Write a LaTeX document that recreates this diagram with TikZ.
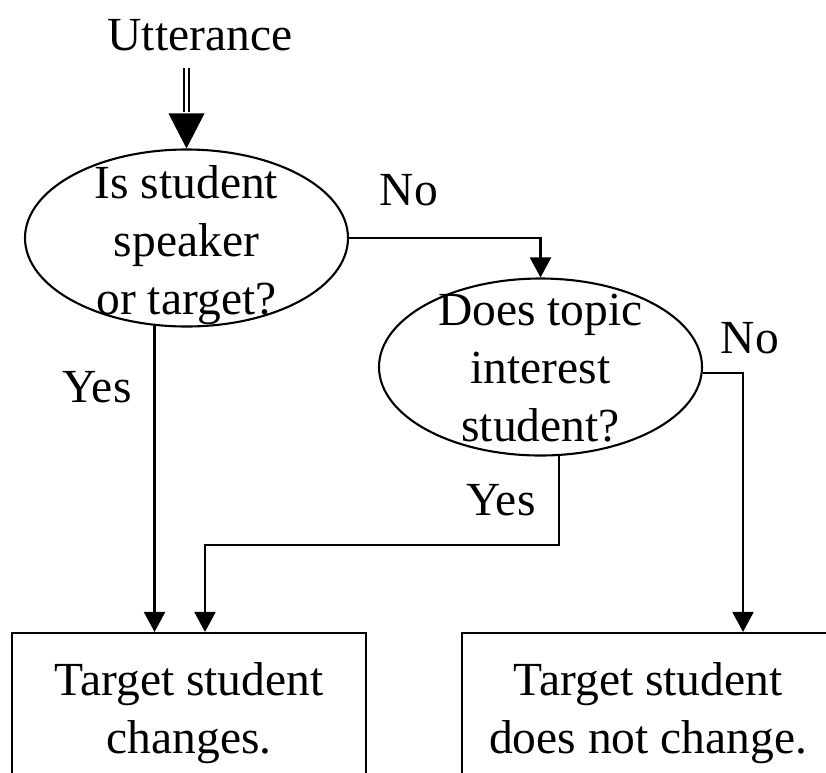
\documentclass[tikz,border=0pt]{standalone}
\usepackage{fontspec}
\setmainfont{Liberation Serif}
\usetikzlibrary{arrows.meta,shapes.geometric,calc}
\begin{document}
\begin{tikzpicture}[x=1pt,y=-1pt,
  every node/.style={font=\fontsize{47.5}{58}\selectfont},
  decision/.style={draw, line width=2.1pt, ellipse, minimum width=323pt,
    minimum height=177pt, inner sep=0pt},
  qtext/.style={align=center, inner sep=0pt},
  outcome/.style={draw, line width=2.1pt, rectangle, align=center,
    minimum height=160pt, inner sep=0pt},
  lbl/.style={anchor=base, inner sep=0pt},
  flow/.style={line width=2.1pt, -{Triangle[length=20pt,width=21pt]}},
  feed/.style={double, double distance=2.5pt, line width=2.3pt},
]
\useasboundingbox (0,0) rectangle (826,772);
\clip (0,0) rectangle (826,772);
\fill[white] (0,0) rectangle (826,772);

% input
\node[lbl] (utt) at (200,50) {Utterance};

% decisions
\node[decision] (e1) at (186.5,238) {};
\node[qtext] (e1t) at ([yshift=-7pt]e1.center) {Is student\\speaker\\or target?};
\node[decision] (e2) at (540.5,367) {};
\node[qtext] (e2t) at ([yshift=-1pt]e2.center) {Does topic\\interest\\student?};

% outcomes
\node[outcome, minimum width=354pt] (o1) at (189,713) {Target student\\changes.};
\node[outcome, minimum width=372pt] (o2) at (648,713) {Target student\\does not change.};

% branch labels
\node[lbl] (no1) at (409,205) {No};
\node[lbl] (no2) at (750,353) {No};
\node[lbl] (yes1) at (97,402) {Yes};
\node[lbl] (yes2) at (501,515) {Yes};

% input arrow: double shaft with a large solid head
\draw[feed] ($(utt.base -| e1.north)+(0,18)$) -- ($(e1.north)+(0,-36)$);
\fill ($(e1.north)+(-18,-35)$) -- ($(e1.north)+(18,-35)$) -- (e1.north) -- cycle;

% connectors
\draw[flow] (e1.east) -| (e2.north);
\draw[flow] (e1.-110) -- (e1.-110 |- o1.north);
\draw[flow] (e2.-78) -- ++(0,89) -| ($(o1.north)+(16,0)$);
\draw[flow] (e2.-2.5) -| ($(o2.north)+(95,0)$);
\end{tikzpicture}
\end{document}
